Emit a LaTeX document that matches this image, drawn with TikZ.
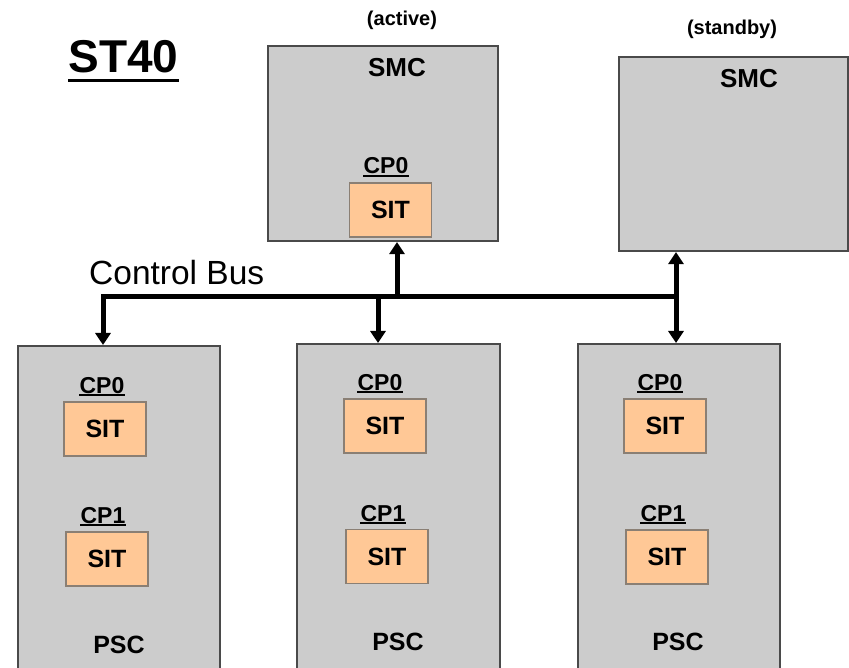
\documentclass[tikz,border=0pt]{standalone}
\usepackage{fontspec}
\setmainfont{Liberation Sans}
\usetikzlibrary{arrows.meta}
\definecolor{boxgray}{HTML}{CCCCCC}
\definecolor{sitfill}{HTML}{FFC896}
\definecolor{sitedge}{HTML}{8A7F74}
\definecolor{boxedge}{HTML}{4A4A4A}
\tikzset{
  unitbox/.style={draw=boxedge, fill=boxgray, line width=2.2pt, inner sep=0pt},
  sitbox/.style={draw=sitedge, fill=sitfill, line width=1.6pt, inner sep=0pt,
    minimum width=82pt, minimum height=54pt, font=\fontsize{25}{28}\selectfont\bfseries},
  cplabel/.style={anchor=base, inner sep=0pt, font=\fontsize{23}{25}\selectfont\bfseries},
  boxlabel/.style={inner sep=0pt, font=\fontsize{25}{28}\selectfont\bfseries},
  smclabel/.style={inner sep=0pt, font=\fontsize{26}{28}\selectfont\bfseries},
  statelabel/.style={inner sep=0pt, font=\fontsize{20}{22}\selectfont\bfseries},
  bus/.style={line width=5pt, -{Triangle[width=15pt,length=12pt]}},
  ul/.style={line width=1.5pt}
}
\begin{document}
\begin{tikzpicture}[x=1pt,y=-1pt]
\useasboundingbox (0,0) rectangle (849,668);
\clip (0,0) rectangle (849,668);

% title
\node[anchor=base, inner sep=0pt, font=\fontsize{46}{50}\selectfont\bfseries] (title) at (123.5,73) {ST40};
\draw[line width=3pt] ([yshift=-8pt]title.base west) -- ([yshift=-8pt]title.base east);

% SMC boxes
\node[unitbox, minimum width=230pt, minimum height=195pt] (smcA) at (383,143.5) {};
\node[unitbox, minimum width=229pt, minimum height=194pt] (smcB) at (733.5,154) {};
\node[statelabel] (actlbl) at (402,20) {(active)};
\node[statelabel] (stblbl) at (732,29) {(standby)};
\node[smclabel] (smcAlbl) at (397,68) {SMC};
\node[smclabel] (smcBlbl) at (749,79) {SMC};
\node[sitbox] (sitA) at (390.5,210) {SIT};
\node[cplabel] (cpA) at (386,174) {CP0};

% PSC boxes
\node[unitbox, anchor=north, minimum width=202pt, minimum height=340pt] (psc1) at (119,345) {};
\node[unitbox, anchor=north, minimum width=203pt, minimum height=340pt] (psc2) at (398.5,343) {};
\node[unitbox, anchor=north, minimum width=202pt, minimum height=340pt] (psc3) at (679,343) {};

\node[sitbox] (sit1a) at (105,429) {SIT};
\node[sitbox] (sit1b) at (107,559) {SIT};
\node[sitbox] (sit2a) at (385,426) {SIT};
\node[sitbox] (sit2b) at (387,556.5) {SIT};
\node[sitbox] (sit3a) at (665,426) {SIT};
\node[sitbox] (sit3b) at (667,557) {SIT};

\node[cplabel] (cp1a) at (102,393) {CP0};
\node[cplabel] (cp1b) at (103,523) {CP1};
\node[cplabel] (cp2a) at (380,390) {CP0};
\node[cplabel] (cp2b) at (383,521) {CP1};
\node[cplabel] (cp3a) at (660,390) {CP0};
\node[cplabel] (cp3b) at (663,521) {CP1};

\foreach \n in {cpA,cp1a,cp1b,cp2a,cp2b,cp3a,cp3b}{
  \draw[ul] ([yshift=-2pt]\n.base west) -- ([yshift=-2pt]\n.base east);
}

\node[boxlabel] (psc1lbl) at (119,645) {PSC};
\node[boxlabel] (psc2lbl) at (398,642) {PSC};
\node[boxlabel] (psc3lbl) at (678,642) {PSC};

% control bus
\node[anchor=base west, inner sep=0pt, font=\fontsize{33.5}{36}\selectfont] (buslbl) at (89,285) {Control Bus};
\coordinate (busL) at (103,297);
\coordinate (busR) at (676,297);
\coordinate (busM) at (378,297);
\coordinate (busA) at (397,297);
\draw[bus, line join=miter] ([xshift=2.5pt]busR) -- (busL) -- (busL |- psc1.north);
\draw[bus] (busM) -- (busM |- psc2.north);
\draw[bus] (busA) -- (busA |- smcA.south);
\draw[bus, {Triangle[width=15pt,length=12pt]}-{Triangle[width=15pt,length=12pt]}] (busR |- smcB.south) -- (busR |- psc3.north);
\end{tikzpicture}
\end{document}
